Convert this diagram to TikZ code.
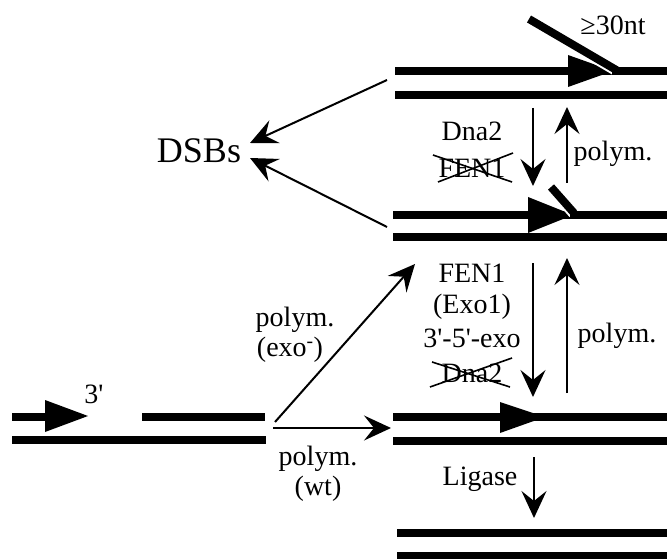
\documentclass[tikz,border=0pt]{standalone}
\usepackage{fontspec}
\setmainfont{Liberation Serif}
\usetikzlibrary{arrows.meta}
\begin{document}
\begin{tikzpicture}[x=1pt,y=-1pt,
 dna/.style={line width=8pt},
 flapwhite/.style={line width=12pt,white},
 conn/.style={line width=2pt,-{Stealth[length=27pt,width=25pt,inset=10pt]}},
 lbl/.style={font=\fontsize{28}{30}\selectfont, inner sep=0pt},
 strike/.style={line width=1.6pt},
 tri/.style={fill=black}]
\useasboundingbox (0,0) rectangle (667,559);

% ---- top pair (flap >= 30nt)
\draw[dna] (395,71) -- (667,71);
\draw[dna] (395,95) -- (667,95);
\fill[tri] (568,55) -- (613,71) -- (568,87) -- cycle;
\coordinate (f1a) at (529,19); \coordinate (f1b) at (618,71);
\draw[flapwhite] (f1a) -- (f1b);
\draw[dna] (f1a) -- (f1b);
\draw[dna] (612,71) -- (667,71);
\node[lbl] (nt) at (613,25) {≥30nt};

% ---- second pair (short flap)
\draw[dna] (393,215) -- (667,215);
\draw[dna] (393,237) -- (667,237);
\fill[tri] (528,197) -- (573,215) -- (528,233) -- cycle;
\coordinate (f2a) at (551,187); \coordinate (f2b) at (574,213);
\draw[flapwhite] (f2a) -- (f2b);
\draw[dna] (f2a) -- (f2b);
\draw[dna] (570,215) -- (667,215);

\coordinate (d1s) at (533,108); \coordinate (d1e) at (533,186);
\draw[conn] (d1s) -- (d1e);
\coordinate (u1s) at (567,183); \coordinate (u1e) at (567,107);
\draw[conn] (u1s) -- (u1e);
\node[lbl] (dna2a) at (472,131) {Dna2};
\node[lbl] (fen1a) at (472,168) {FEN1};
\draw[strike] (433,155) -- (512,182);
\draw[strike] (438,182) -- (513,153);
\node[lbl] (pol1) at (613,154) {polym.};

% ---- third pair (nick with 3' end)
\draw[dna] (393,417) -- (667,417);
\draw[dna] (393,441) -- (667,441);
\fill[tri] (500,402) -- (545,417) -- (500,433) -- cycle;

\coordinate (d2s) at (533,263); \coordinate (d2e) at (533,397);
\draw[conn] (d2s) -- (d2e);
\coordinate (u2s) at (567,393); \coordinate (u2e) at (567,258);
\draw[conn] (u2s) -- (u2e);
\node[lbl] (fen1b) at (472,273) {FEN1};
\node[lbl] (exo1) at (472,307) {(Exo1)};
\node[lbl] (exo35) at (472,338) {3\textquotesingle-5\textquotesingle-exo};
\node[lbl] (dna2b) at (472,373) {Dna2};
\draw[strike] (430,387) -- (512,358);
\draw[strike] (432,362) -- (510,387);
\node[lbl] (pol2) at (617,336) {polym.};

% ---- ligated product
\draw[dna] (397,533) -- (667,533);
\draw[dna] (397,556) -- (667,556);
\coordinate (ls) at (534,457); \coordinate (le) at (534,518);
\draw[conn] (ls) -- (le);
\node[lbl] (lig) at (480,479) {Ligase};

% ---- left substrate (gap)
\draw[dna] (12,417) -- (50,417);
\fill[tri] (45,400) -- (88,416) -- (45,432) -- cycle;
\draw[dna] (142,417) -- (265,417);
\draw[dna] (12,440) -- (266,440);
\node[lbl] (three) at (94,394) {3\textquotesingle};

\coordinate (gs) at (275,422); \coordinate (ge) at (415,264);
\draw[conn] (gs) -- (ge);
\coordinate (hs) at (273,428); \coordinate (he) at (391,428);
\draw[conn] (hs) -- (he);
\node[lbl] (pol3) at (295,320) {polym.};
\node[lbl] (exom) at (290,350) {(exo\textsuperscript{-})};
\node[lbl] (pol4) at (318,459) {polym.};
\node[lbl] (wt) at (318,489) {(wt)};

% ---- DSBs
\node[font=\fontsize{36}{40}\selectfont, inner sep=0pt] (dsb) at (199,151) {DSBs};
\coordinate (a1s) at (387,80); \coordinate (a1e) at (250,143);
\draw[conn] (a1s) -- (a1e);
\coordinate (a2s) at (387,227); \coordinate (a2e) at (250,158);
\draw[conn] (a2s) -- (a2e);
\end{tikzpicture}
\end{document}
